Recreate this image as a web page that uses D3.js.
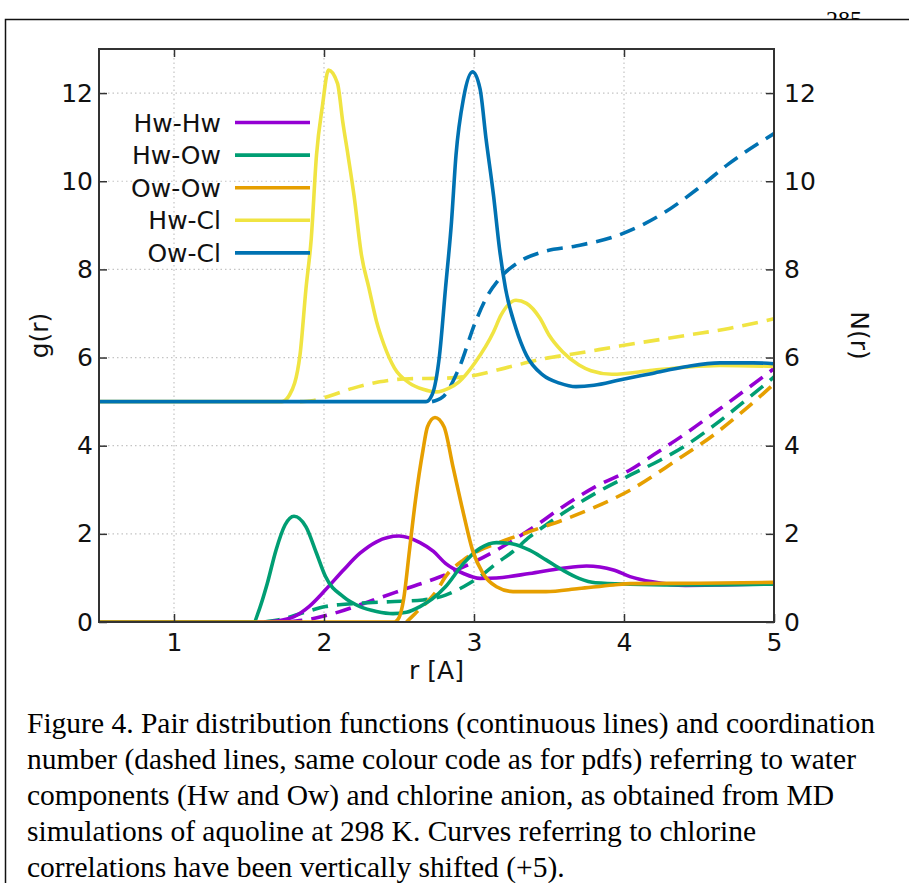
<!DOCTYPE html>
<html>
<head>
<meta charset="utf-8">
<script src="https://cdn.jsdelivr.net/npm/d3@7"></script>
<style>
  html, body { margin: 0; padding: 0; background: #fff; }
  svg { display: block; }
</style>
</head>
<body>
<svg id="chart" width="909" height="883"></svg>
<script>
// ---------------- DATA ----------------
const seriesNames = ["Hw-Hw", "Hw-Ow", "Ow-Ow", "Hw-Cl", "Ow-Cl"];
const seriesColors = ["#9400d3", "#009e73", "#e69f00", "#f0e442", "#0072b2"];
const chlorineShift = 5; // chlorine curves shifted vertically (+5)

const xTicks = [1, 2, 3, 4, 5];
const yTicks = [0, 2, 4, 6, 8, 10, 12];

// pair distribution functions g(r): [r, g]
const pdfHwHw = [[0.5,0],[1.6,0],[1.68,0.02],[1.8,0.12],[1.9,0.35],[2.01,0.73],[2.13,1.18],[2.24,1.56],[2.35,1.82],[2.5,1.95],[2.64,1.8],[2.73,1.6],[2.81,1.33],[2.93,1.1],[3.04,0.99],[3.15,1.0],[3.37,1.1],[3.59,1.22],[3.75,1.27],[3.93,1.18],[4.04,1.03],[4.19,0.91],[4.41,0.83],[4.64,0.84],[5.0,0.87]];
const pdfHwOw = [[0.5,0],[1.53,0],[1.57,0.3],[1.62,0.85],[1.68,1.63],[1.74,2.2],[1.8,2.4],[1.88,2.16],[1.95,1.56],[2.01,1.03],[2.13,0.57],[2.24,0.35],[2.35,0.24],[2.46,0.19],[2.55,0.22],[2.64,0.35],[2.72,0.52],[2.81,0.8],[2.93,1.33],[3.04,1.67],[3.15,1.8],[3.26,1.77],[3.37,1.63],[3.48,1.41],[3.59,1.18],[3.7,0.99],[3.81,0.89],[4.04,0.86],[4.5,0.84],[5.0,0.86]];
const pdfOwOw = [[0.5,0],[2.47,0],[2.5,0.1],[2.53,0.5],[2.57,1.63],[2.61,2.77],[2.66,3.9],[2.69,4.43],[2.74,4.64],[2.8,4.43],[2.86,3.52],[2.93,2.46],[2.99,1.63],[3.06,1.1],[3.15,0.8],[3.26,0.69],[3.48,0.69],[3.7,0.76],[3.93,0.84],[4.04,0.87],[4.5,0.88],[5.0,0.9]];
const pdfHwCl = [[0.5,0],[1.72,0],[1.77,0.15],[1.84,1.06],[1.88,2.57],[1.915,3.7],[1.95,5.59],[1.99,6.72],[2.03,7.52],[2.09,7.22],[2.125,6.35],[2.16,5.59],[2.2,4.68],[2.25,3.32],[2.3,2.57],[2.35,1.82],[2.4,1.29],[2.47,0.76],[2.57,0.42],[2.66,0.28],[2.75,0.22],[2.83,0.3],[2.9,0.45],[3.01,0.9],[3.13,1.58],[3.18,1.96],[3.28,2.3],[3.35,2.23],[3.44,1.89],[3.5,1.51],[3.59,1.13],[3.7,0.83],[3.78,0.7],[3.92,0.62],[4.19,0.71],[4.41,0.78],[4.64,0.82],[5.0,0.8]];
const pdfOwCl = [[0.5,0],[2.68,0],[2.72,0.15],[2.77,1.05],[2.81,2.57],[2.85,4.08],[2.88,5.59],[2.93,6.88],[2.99,7.48],[3.04,7.1],[3.08,5.97],[3.13,4.68],[3.17,3.47],[3.21,2.57],[3.28,1.66],[3.35,1.05],[3.46,0.6],[3.57,0.42],[3.68,0.34],[3.8,0.37],[3.97,0.49],[4.19,0.64],[4.41,0.79],[4.64,0.88],[4.86,0.88],[5.0,0.86]];

// coordination numbers N(r): [r, N]
const cnHwHw = [[1.75,0],[1.9,0.06],[2.1,0.23],[2.33,0.5],[2.55,0.76],[2.77,1.02],[2.93,1.25],[3.15,1.63],[3.37,2.09],[3.59,2.61],[3.81,3.07],[4.04,3.45],[4.2,3.8],[4.4,4.25],[4.6,4.74],[4.8,5.24],[5.0,5.75]];
const cnHwOw = [[1.6,0],[1.7,0.05],[1.88,0.23],[2.01,0.35],[2.21,0.42],[2.44,0.46],[2.66,0.5],[2.75,0.55],[2.81,0.61],[2.93,0.8],[3.04,1.03],[3.15,1.33],[3.26,1.6],[3.37,1.93],[3.48,2.2],[3.59,2.46],[3.81,2.92],[4.04,3.33],[4.24,3.67],[4.4,3.98],[4.6,4.46],[4.8,5.0],[5.0,5.56]];
const cnOwOw = [[2.55,0],[2.61,0.2],[2.7,0.5],[2.75,0.7],[2.81,1.03],[2.93,1.41],[3.04,1.63],[3.15,1.78],[3.37,2.05],[3.59,2.31],[3.81,2.61],[4.04,2.99],[4.35,3.67],[4.6,4.25],[4.8,4.8],[5.0,5.4]];
const cnHwCl = [[1.84,0],[1.92,0.02],[2.01,0.1],[2.19,0.3],[2.37,0.45],[2.57,0.52],[2.79,0.53],[3.01,0.6],[3.24,0.79],[3.46,0.97],[3.68,1.09],[3.97,1.26],[4.41,1.5],[4.7,1.66],[5.0,1.88]];
const cnOwCl = [[2.72,0],[2.79,0.1],[2.9,0.76],[3.01,1.81],[3.08,2.34],[3.17,2.79],[3.3,3.17],[3.46,3.4],[3.68,3.53],[3.99,3.81],[4.26,4.27],[4.48,4.8],[4.7,5.4],[5.0,6.08]];

const captionLines = [
  "Figure 4. Pair distribution functions (continuous lines) and coordination",
  "number (dashed lines, same colour code as for pdfs) referring to water",
  "components (Hw and Ow) and chlorine anion, as obtained from MD",
  "simulations of aquoline at 298 K. Curves referring to chlorine",
  "correlations have been vertically shifted (+5)."
];

// ---------------- DRAWING ----------------
const svg = d3.select("#chart");
const W = 909, H = 883;
const L = 99, R = 774, T = 49, B = 622;
const tickFont = "'DejaVu Sans', sans-serif";
const LW = 3.6;

const x = d3.scaleLinear().domain([0.5, 5]).range([L, R]);
const y = d3.scaleLinear().domain([0, 13]).range([B, T]);

// page number, clipped by the frame line
svg.append("clipPath").attr("id", "pgclip")
  .append("rect").attr("x", 0).attr("y", 0).attr("width", W).attr("height", 19);
svg.append("text").attr("clip-path", "url(#pgclip)")
  .attr("x", 826).attr("y", 27)
  .attr("font-family", "'Liberation Serif', serif").attr("font-size", 24)
  .text("285");

// outer frame (left + top)
svg.append("path").attr("d", `M5.5,${H} V19.5 H${W}`)
  .attr("fill", "none").attr("stroke", "#111").attr("stroke-width", 1.5);

// grid
const grid = svg.append("g").attr("stroke", "#c4c4c4").attr("stroke-width", 1.2)
  .attr("stroke-dasharray", "1.5,3");
grid.selectAll("line.v").data(xTicks.filter(t => t < 5)).join("line")
  .attr("x1", d => x(d)).attr("x2", d => x(d)).attr("y1", B).attr("y2", T);
grid.selectAll("line.h").data(yTicks.filter(t => t > 0)).join("line")
  .attr("x1", L).attr("x2", R).attr("y1", d => y(d)).attr("y2", d => y(d));

// curves
svg.append("clipPath").attr("id", "plotclip")
  .append("rect").attr("x", L).attr("y", T - 5).attr("width", R - L + 3).attr("height", B - T + 5);
const plot = svg.append("g").attr("clip-path", "url(#plotclip)");

const pdfs = [pdfHwHw, pdfHwOw, pdfOwOw, pdfHwCl, pdfOwCl];
const cns = [cnHwHw, cnHwOw, cnOwOw, cnHwCl, cnOwCl];
const shifts = [0, 0, 0, chlorineShift, chlorineShift];

const line = (shift) => d3.line()
  .x(d => x(d[0])).y(d => y(d[1] + shift))
  .curve(d3.curveMonotoneX);

// dashed coordination numbers first, then solid pdfs
cns.forEach((data, i) => {
  plot.append("path").datum(data)
    .attr("d", line(shifts[i]))
    .attr("fill", "none").attr("stroke", seriesColors[i])
    .attr("stroke-width", LW).attr("stroke-dasharray", "16,9")
    .attr("stroke-linejoin", "round");
});
pdfs.forEach((data, i) => {
  plot.append("path").datum(data)
    .attr("d", line(shifts[i]))
    .attr("fill", "none").attr("stroke", seriesColors[i])
    .attr("stroke-width", LW).attr("stroke-linejoin", "round");
});

// axes
function styleAxis(g) {
  g.attr("font-family", tickFont).attr("font-size", 25);
  g.select(".domain").remove();
  g.selectAll(".tick line").attr("stroke", "#333").attr("stroke-width", 1.5);
  g.selectAll(".tick text").attr("fill", "#111");
}
const fmt = d3.format("d");
svg.append("g").attr("transform", `translate(${L},0)`)
  .call(d3.axisLeft(y).tickValues(yTicks).tickFormat(fmt).tickSize(-8).tickPadding(6)).call(styleAxis);
svg.append("g").attr("transform", `translate(${R},0)`)
  .call(d3.axisRight(y).tickValues(yTicks).tickFormat(fmt).tickSize(-8).tickPadding(10)).call(styleAxis);
svg.append("g").attr("transform", `translate(0,${B})`)
  .call(d3.axisBottom(x).tickValues(xTicks).tickFormat(fmt).tickSize(-8).tickPadding(11)).call(styleAxis);
svg.append("g").attr("transform", `translate(0,${T})`)
  .call(d3.axisTop(x).tickValues(xTicks.filter(t => t < 5)).tickSize(-8).tickFormat("")).call(styleAxis);

// plot frame
svg.append("rect").attr("x", L).attr("y", T).attr("width", R - L).attr("height", B - T)
  .attr("fill", "none").attr("stroke", "#333").attr("stroke-width", 2);

// axis titles
svg.append("text").attr("transform", `translate(48,${(T + B) / 2}) rotate(-90)`)
  .attr("text-anchor", "middle").attr("font-family", tickFont).attr("font-size", 25)
  .attr("fill", "#111").text("g(r)");
svg.append("text").attr("transform", `translate(851,${(T + B) / 2}) rotate(90)`)
  .attr("text-anchor", "middle").attr("font-family", tickFont).attr("font-size", 25)
  .attr("fill", "#111").text("N(r)");
svg.append("text").attr("x", (L + R) / 2).attr("y", 679)
  .attr("text-anchor", "middle").attr("font-family", tickFont).attr("font-size", 25)
  .attr("fill", "#111").text("r [A]");

// legend
const legend = svg.append("g");
seriesNames.forEach((name, i) => {
  const ly = 122.5 + i * 32.6;
  legend.append("text").attr("x", 221).attr("y", ly + 9)
    .attr("text-anchor", "end").attr("font-family", tickFont).attr("font-size", 25)
    .attr("fill", "#111").text(name);
  legend.append("line").attr("x1", 235).attr("x2", 310).attr("y1", ly).attr("y2", ly)
    .attr("stroke", seriesColors[i]).attr("stroke-width", LW);
});

// caption
svg.append("g").selectAll("text").data(captionLines).join("text")
  .attr("x", 27).attr("y", (d, i) => 733 + i * 36)
  .attr("font-family", "'Liberation Serif', 'Times New Roman', serif")
  .attr("font-size", 29.5).attr("fill", "#000")
  .text(d => d);
</script>
</body>
</html>
